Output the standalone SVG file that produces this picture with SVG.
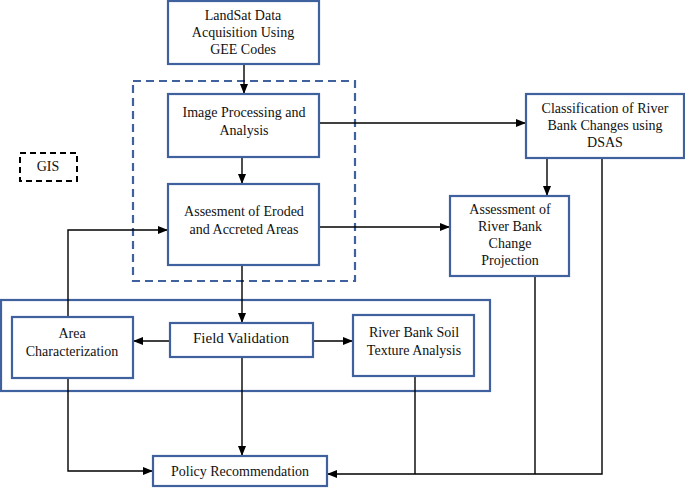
<svg xmlns="http://www.w3.org/2000/svg" width="685" height="488" viewBox="0 0 685 488">
<defs>
<marker id="ah" markerWidth="10" markerHeight="8" refX="9" refY="4" orient="auto" markerUnits="userSpaceOnUse">
<path d="M0,0 L10,4 L0,8 Z" fill="#000"/>
</marker>
</defs>
<style>
.box{fill:#fff;stroke:#3f619e;stroke-width:2.2}
text{font-family:'Liberation Serif','Times New Roman','DejaVu Serif',serif;font-size:14px;fill:#111;text-anchor:middle}
.c{fill:none;stroke:#000;stroke-width:1.4}
</style>
<rect width="685" height="488" fill="#fff"/>
<rect x="133" y="81" width="222" height="200" fill="none" stroke="#3f619e" stroke-width="2.2" stroke-dasharray="8,5"/>
<rect x="1" y="300" width="489" height="91" fill="none" stroke="#3f619e" stroke-width="2.2"/>
<g id="gis">
<rect x="20" y="153" width="57" height="28" fill="none" stroke="#000" stroke-width="2" stroke-dasharray="6,4"/>
<text x="48" y="171">GIS</text>
</g>
<g id="connectors">
<line class="c" x1="244" y1="64" x2="244" y2="93" marker-end="url(#ah)"/>
<line class="c" x1="242" y1="157" x2="242" y2="183" marker-end="url(#ah)"/>
<line class="c" x1="319" y1="123" x2="525" y2="123" marker-end="url(#ah)"/>
<line class="c" x1="319" y1="227" x2="449" y2="227" marker-end="url(#ah)"/>
<line class="c" x1="547" y1="158" x2="547" y2="195" marker-end="url(#ah)"/>
<polyline class="c" points="68,317 68,230 167,230" marker-end="url(#ah)"/>
<line class="c" x1="242" y1="265" x2="242" y2="322" marker-end="url(#ah)"/>
<line class="c" x1="170" y1="341" x2="134" y2="341" stroke-width="2" marker-end="url(#ah)"/>
<line class="c" x1="313" y1="341" x2="352" y2="341" marker-end="url(#ah)"/>
<line class="c" x1="242" y1="357" x2="242" y2="455" marker-end="url(#ah)"/>
<polyline class="c" points="68,378 68,471 152,471" marker-end="url(#ah)"/>
<line class="c" x1="415" y1="374" x2="415" y2="474"/>
<line class="c" x1="535" y1="269" x2="535" y2="474"/>
<polyline class="c" points="602,158 602,474 328,474" marker-end="url(#ah)"/>
</g>
<g id="landsat">
<rect class="box" x="168" y="1" width="151" height="63"/>
<text x="243" y="20">LandSat Data</text>
<text x="243" y="37">Acquisition Using</text>
<text x="243" y="54">GEE Codes</text>
</g>
<g id="imgproc">
<rect class="box" x="168" y="94" width="151" height="63"/>
<text x="244" y="117">Image Processing and</text>
<text x="244" y="135">Analysis</text>
</g>
<g id="assess">
<rect class="box" x="168" y="184" width="151" height="81"/>
<text x="244" y="216">Assesment of Eroded</text>
<text x="244" y="234">and Accreted Areas</text>
</g>
<g id="dsas">
<rect class="box" x="526" y="94" width="158" height="64" stroke-width="1.8"/>
<text x="605" y="113">Classification of River</text>
<text x="605" y="130">Bank Changes using</text>
<text x="605" y="147">DSAS</text>
</g>
<g id="projection">
<rect class="box" x="450" y="196" width="119" height="80" stroke-width="1.8"/>
<text x="510" y="214">Assessment of</text>
<text x="510" y="231">River Bank</text>
<text x="510" y="248">Change</text>
<text x="510" y="265">Projection</text>
</g>
<g id="areachar">
<rect class="box" x="12" y="317" width="121" height="61"/>
<text x="72" y="338">Area</text>
<text x="72" y="356">Characterization</text>
</g>
<g id="fieldval">
<rect class="box" x="170" y="323" width="143" height="34"/>
<text x="241" y="343" style="font-size:15px">Field Validation</text>
</g>
<g id="soil">
<rect class="box" x="353" y="315" width="121" height="61"/>
<text x="414" y="337">River Bank Soil</text>
<text x="414" y="355">Texture Analysis</text>
</g>
<g id="policy">
<rect class="box" x="153" y="456" width="174" height="30"/>
<text x="240" y="476">Policy Recommendation</text>
</g>
</svg>
